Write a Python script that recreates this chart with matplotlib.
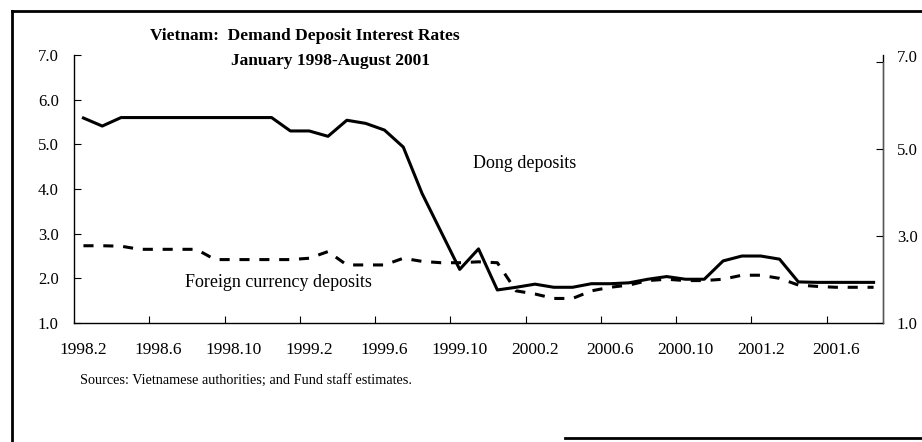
import matplotlib.pyplot as plt
import numpy as np
from matplotlib.lines import Line2D

plt.rcParams['font.family'] = ['Liberation Serif', 'DejaVu Serif']

# Месячные данные, 1998.2 - 2001.8
months = np.arange(43)
dong = [5.59, 5.41, 5.6, 5.6, 5.6, 5.6, 5.6, 5.6, 5.6, 5.6, 5.6,
        5.3, 5.3, 5.18, 5.54, 5.47, 5.32, 4.94, 3.9, 3.05, 2.2,
        2.66, 1.74, 1.8, 1.87, 1.8, 1.8, 1.88, 1.88, 1.9, 1.98,
        2.04, 1.98, 1.98, 2.39, 2.5, 2.5, 2.43, 1.92, 1.91, 1.91, 1.91, 1.91]
foreign = [2.73, 2.73, 2.72, 2.65, 2.65, 2.65, 2.65, 2.42, 2.42, 2.42, 2.42,
           2.42, 2.45, 2.6, 2.3, 2.3, 2.3, 2.45, 2.38, 2.35, 2.35,
           2.37, 2.35, 1.72, 1.65, 1.55, 1.55, 1.72, 1.8, 1.85, 1.95,
           1.98, 1.95, 1.95, 1.98, 2.07, 2.07, 2.0, 1.85, 1.82, 1.8, 1.8, 1.8]
x_labels = ['1998.2', '1998.6', '1998.10', '1999.2', '1999.6', '1999.10',
            '2000.2', '2000.6', '2000.10', '2001.2', '2001.6']
left_ticks = [1.0, 2.0, 3.0, 4.0, 5.0, 6.0, 7.0]
right_ticks = [1.0, 3.0, 5.0, 7.0]

fig = plt.figure(figsize=(9.22, 4.42), dpi=100)
ax = fig.add_axes([0.0803, 0.2692, 0.8774, 0.6063])

ax.plot(months, dong, color='black', lw=2.2)
ax.plot(months, foreign, color='black', lw=2.2, linestyle=(0, (3.3, 3.2)))

ax.set_xlim(-0.5, 42.5)
ax.set_ylim(1, 7)

# метки без засечек, засечки между категориями
ax.set_xticks(np.arange(0, 44, 4))
ax.set_xticklabels(x_labels, fontsize=12.5)
ax.tick_params(axis='x', length=0, pad=14)
ax.set_xticks(np.arange(3.5, 42, 4), minor=True)
ax.tick_params(axis='x', which='minor', direction='in', length=5, width=0.8)

ax.set_yticks(left_ticks)
ax.set_yticklabels(['%.1f' % t for t in left_ticks], fontsize=12)
ax.tick_params(axis='y', direction='in', length=5, width=0.8, pad=11)

ax.spines['top'].set_visible(False)
for s in ['left', 'right', 'bottom']:
    ax.spines[s].set_linewidth(1.0)

ax2 = ax.twinx()
ax2.set_ylim(1, 7.15)
ax2.set_yticks(right_ticks)
ax2.set_yticklabels(['%.1f' % t for t in right_ticks], fontsize=12)
ax2.tick_params(axis='y', direction='in', length=5, width=0.8, pad=10)
ax2.get_yticklabels()[-1].set_verticalalignment('baseline')
ax2.spines['top'].set_visible(False)
ax2.spines['left'].set_visible(False)
ax2.spines['bottom'].set_visible(False)
ax2.spines['right'].set_bounds(1, 7)
ax2.spines['right'].set_color('#555555')

ax.text(20.7, 4.58, 'Dong deposits', fontsize=13, va='center')
ax.text(5.4, 1.9, 'Foreign currency deposits', fontsize=13, va='center')

fig.text(0.331, 0.918, 'Vietnam:  Demand Deposit Interest Rates',
         fontsize=12.5, fontweight='bold', ha='center', va='center')
fig.text(0.358, 0.862, 'January 1998-August 2001',
         fontsize=12.5, fontweight='bold', ha='center', va='center')
fig.text(0.087, 0.140, 'Sources: Vietnamese authorities; and Fund staff estimates.',
         fontsize=10.3, va='center')

# рамка вокруг рисунка
fig.add_artist(Line2D([0.013, 1.0], [0.975, 0.975], color='black', lw=2,
                      transform=fig.transFigure))
fig.add_artist(Line2D([0.013, 0.013], [0.975, 0.0], color='black', lw=2,
                      transform=fig.transFigure))
fig.add_artist(Line2D([0.613, 1.0], [0.008, 0.008], color='black', lw=2,
                      transform=fig.transFigure))

plt.savefig('out.png', dpi=100)
